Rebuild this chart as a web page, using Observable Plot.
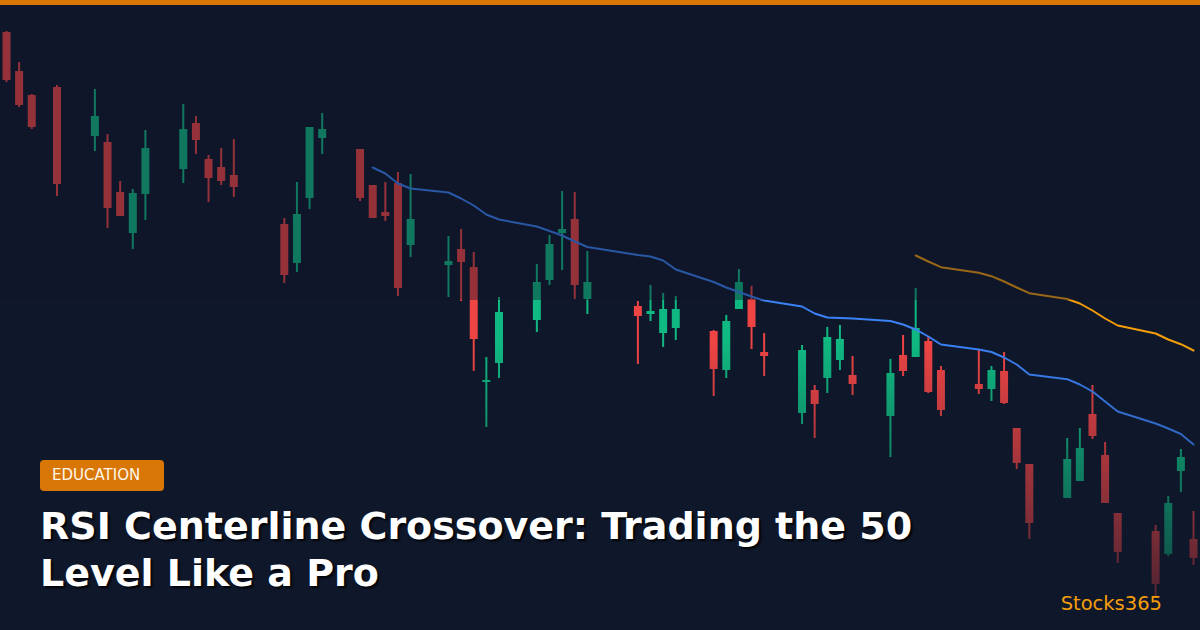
<!DOCTYPE html>
<html>
<head>
<meta charset="utf-8">
<script src="https://cdn.jsdelivr.net/npm/d3@7"></script>
<script src="https://cdn.jsdelivr.net/npm/@observablehq/plot@0.6"></script>
<style>
  html, body { margin: 0; padding: 0; background: #0f172a; }
  #wrap { position: relative; width: 1200px; height: 630px; overflow: hidden; background: #0f172a; font-family: "DejaVu Sans", sans-serif; }
  #chart { position: absolute; left: 0; top: 0; width: 1200px; height: 630px; }
  #chart svg { display: block; }
  .dimTop { position: absolute; left: 0; top: 0; width: 1200px; height: 300px; background: rgba(15,23,42,0.4); pointer-events: none; }
  .fadeBottom { position: absolute; left: 0; top: 340px; width: 1200px; height: 290px; background: linear-gradient(to bottom, rgba(15,23,42,0) 0%, rgba(15,23,42,0.8) 100%); pointer-events: none; }
  .topbar { position: absolute; left: 0; top: 0; width: 1200px; height: 5px; background: #d97706; }
  .badge { position: absolute; left: 40px; top: 460px; width: 112px; height: 31px; padding-left: 12px; background: #d97706; border-radius: 4px; color: #fef6ea; font-size: 15px; line-height: 31px; white-space: nowrap; }
  .title { position: absolute; left: 40px; top: 503px; color: #ffffff; font-weight: bold; font-size: 38px; line-height: 47px; white-space: nowrap; text-shadow: 2px 2px 2px rgba(0,0,0,0.85); }
  .brand { position: absolute; right: 38px; top: 594px; color: #f59e0b; font-size: 19.5px; line-height: 19.5px; white-space: nowrap; }
</style>
</head>
<body>
<div id="wrap">
  <div id="chart"></div>
  <div class="dimTop"></div>
  <div class="fadeBottom"></div>
  <div class="topbar"></div>
  <div class="badge">EDUCATION</div>
  <div class="title">RSI Centerline Crossover: Trading the 50<br>Level Like a Pro</div>
  <div class="brand">Stocks365</div>
</div>
<script>
const dates = ["2025-12-29","2025-12-30","2025-12-31","2026-01-02","2026-01-05","2026-01-06","2026-01-07","2026-01-08","2026-01-09","2026-01-12","2026-01-13","2026-01-14","2026-01-15","2026-01-16","2026-01-20","2026-01-21","2026-01-22","2026-01-23","2026-01-26","2026-01-27","2026-01-28","2026-01-29","2026-01-30","2026-02-02","2026-02-03","2026-02-04","2026-02-05","2026-02-06","2026-02-09","2026-02-10","2026-02-11","2026-02-12","2026-02-13","2026-02-17","2026-02-18","2026-02-19","2026-02-20","2026-02-23","2026-02-24","2026-02-25","2026-02-26","2026-02-27","2026-03-02","2026-03-03","2026-03-04","2026-03-05","2026-03-06","2026-03-09","2026-03-10","2026-03-11","2026-03-12","2026-03-13","2026-03-16","2026-03-17","2026-03-18","2026-03-19","2026-03-20","2026-03-23","2026-03-24","2026-03-25","2026-03-26","2026-03-27","2026-03-30","2026-03-31","2026-04-01","2026-04-02"];

const open = [66.8,62.9,60.5,61.3,56.4,55.8,50.8,46.7,50.6,53.1,
  57.7,54.1,53.3,52.5,47.6,43.7,50.2,56.2,55.1,51.5,
  48.8,51.7,45.5,43.5,45.1,43.3,31.8,33.7,38.0,42.0,
  46.7,48.1,40.1,39.4,38.6,36.7,37.2,36.9,33.0,39.1,
  40.1,34.8,28.7,31.0,32.2,34.0,32.5,28.4,34.5,34.3,
  35.9,33.0,31.6,31.1,32.9,27.2,23.6,20.2,21.9,28.6,
  24.5,18.7,16.9,14.6,22.9,16.1];

const high = [66.9,63.8,60.6,61.5,61.1,56.6,51.9,51.1,57.0,59.6,
  58.4,54.5,55.2,56.1,48.2,51.8,57.3,58.7,55.1,51.5,
  51.8,52.8,52.6,46.4,47.1,44.8,34.3,40.3,43.6,46.5,
  50.9,50.8,44.9,39.9,41.5,40.7,40.4,37.0,38.5,43.1,
  41.4,36.7,35.5,31.5,37.3,37.5,34.4,34.1,36.5,41.2,
  36.4,33.4,35.1,33.4,34.8,27.2,23.6,26.2,27.2,31.5,
  25.8,18.7,17.5,20.4,25.1,18.9];

const low = [61.8,59.3,57.1,50.4,54.9,47.2,48.4,45.1,48.0,51.7,
  54.6,49.8,51.5,50.3,41.7,42.8,49.1,54.6,49.9,48.2,
  47.9,40.4,44.3,40.3,39.9,32.9,27.3,32.2,36.8,41.5,
  43.0,40.1,38.6,33.6,37.9,35.3,36.0,30.4,32.2,39.1,
  35.1,32.4,27.6,26.2,30.7,33.0,30.5,24.3,32.4,34.3,
  30.7,28.4,30.6,29.9,29.6,23.1,16.1,20.2,21.9,26.1,
  19.7,13.7,10.3,14.4,20.8,13.5];

const close = [62.0,59.5,57.3,51.6,58.4,49.2,48.4,50.7,55.2,57.1,
  56.0,52.2,51.9,51.3,42.5,48.6,57.3,57.1,50.2,48.2,
  48.4,41.2,48.1,43.9,43.8,36.1,32.0,38.8,41.8,45.6,
  47.1,41.5,41.8,38.4,38.9,39.1,39.1,33.1,37.9,41.8,
  37.3,34.4,35.0,29.6,36.3,36.1,31.6,32.7,32.9,37.2,
  30.8,29.0,31.1,33.0,29.7,23.7,17.7,24.1,25.2,26.4,
  19.7,14.8,11.6,19.7,24.3,14.2];

// 20-period moving average (starts 2026-01-27)
const sma20Start = "2026-01-27";
const sma20 = [53.3,52.7,51.7,51.2,50.8,50.2,49.5,48.6,48.1,47.4,
  46.95,46.5,45.9,45.35,44.55,44.4,44.0,43.1,41.85,41.3,
  40.85,40.4,40.0,39.4,38.7,38.3,38.25,38.2,37.95,37.6,
  37.1,36.4,35.6,35.1,34.85,34.3,33.6,32.6,32.13,31.6,
  30.9,29.9,28.9,27.7,27.2,26.65,25.6];

// 50-period moving average (starts 2026-03-11)
const sma50Start = "2026-03-11";
const sma50 = [44.5,43.9,43.33,42.77,42.43,41.9,41.3,40.73,40.15,39.7,
  39.0,38.2,37.5,36.7,36.1,35.63,35.0];

const toDate = s => new Date(s + "T00:00:00Z");

const candles = dates.map((d, i) => ({
  date: toDate(d), open: open[i], high: high[i], low: low[i], close: close[i],
  dir: close[i] >= open[i] ? "up" : "down"
}));
const i20 = dates.indexOf(sma20Start);
const ma20 = sma20.map((v, k) => ({date: toDate(dates[i20 + k]), value: v}));
const i50 = dates.indexOf(sma50Start);
const ma50 = sma50.map((v, k) => ({date: toDate(dates[i50 + k]), value: v}));

const chart = Plot.plot({
  width: 1200,
  height: 630,
  margin: 0,
  style: {background: "#0f172a", overflow: "visible"},
  x: {type: "utc", domain: [candles[0].date, candles[candles.length - 1].date], range: [6, 1193], axis: null},
  y: {domain: [7, 70], range: [630, 0], axis: null},
  color: {domain: ["up", "down"], range: ["#10b981", "#ef4444"]},
  marks: [
    Plot.ruleX(candles, {x: "date", y1: "low", y2: "high", stroke: "dir", strokeWidth: 2}),
    Plot.ruleX(candles, {x: "date", y1: "open", y2: "close", stroke: "dir", strokeWidth: 8}),
    Plot.line(ma20, {x: "date", y: "value", stroke: "#3b82f6", strokeWidth: 2}),
    Plot.line(ma50, {x: "date", y: "value", stroke: "#f59e0b", strokeWidth: 2})
  ]
});
document.getElementById("chart").appendChild(chart);
</script>
</body>
</html>
